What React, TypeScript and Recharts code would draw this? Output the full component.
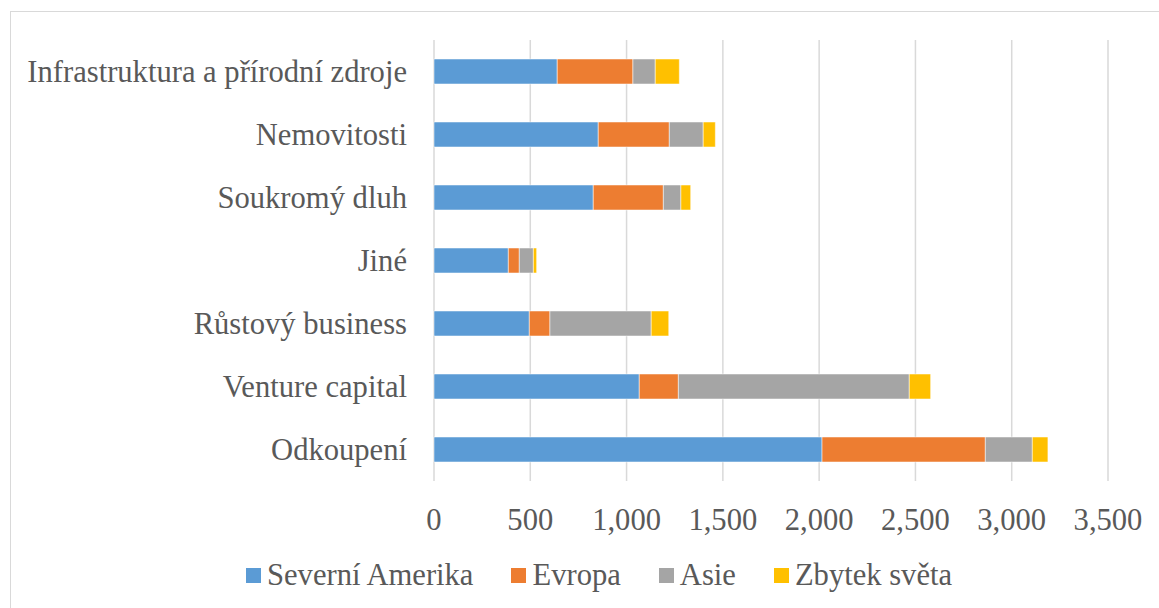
import { Bar, BarChart, CartesianGrid, XAxis, YAxis } from 'recharts';

const categories = [
  'Infrastruktura a přírodní zdroje',
  'Nemovitosti',
  'Soukromý dluh',
  'Jiné',
  'Růstový business',
  'Venture capital',
  'Odkoupení',
];
const severniAmerika = [640, 853, 827, 386, 495, 1066, 2015];
const evropa = [393, 369, 364, 57, 107, 203, 848];
const asie = [116, 176, 91, 73, 526, 1199, 244];
const zbytekSveta = [125, 63, 51, 17, 91, 111, 81];
const xTicks = [0, 500, 1000, 1500, 2000, 2500, 3000, 3500];

const series = [
  { key: 'na', name: 'Severní Amerika', values: severniAmerika, color: '#5B9BD5' },
  { key: 'eu', name: 'Evropa', values: evropa, color: '#ED7D31' },
  { key: 'as', name: 'Asie', values: asie, color: '#A5A5A5' },
  { key: 'rest', name: 'Zbytek světa', values: zbytekSveta, color: '#FFC000' },
];

const chartData = categories.map((name, i) => {
  const row: Record<string, string | number> = { name };
  series.forEach((s) => {
    row[s.key] = s.values[i];
  });
  return row;
});

const FONT = '"Liberation Serif", "Times New Roman", serif';
const TEXT = '#595959';
const FS = 30.6;

export default function App() {
  return (
    <div style={{ position: 'absolute', left: 0, top: 0, width: 1159, height: 608, overflow: 'hidden', background: '#fff' }}>
      <div
        style={{
          position: 'absolute',
          left: 10,
          top: 11,
          width: 1300,
          height: 800,
          border: '1px solid #d9d9d9',
        }}
      />
      <BarChart
        width={1159}
        height={608}
        data={chartData}
        layout="vertical"
        margin={{ top: 40, right: 51, left: 0, bottom: 0 }}
        barSize={25}
        style={{ position: 'absolute', left: 0, top: 0 }}
      >
        <CartesianGrid horizontal={false} stroke="#d9d9d9" strokeWidth={1.5} />
        <XAxis
          type="number"
          domain={[0, 3500]}
          ticks={xTicks}
          axisLine={false}
          tickLine={false}
          tickSize={0}
          tickMargin={27}
          height={127}
          interval={0}
          tickFormatter={(v: number) => v.toLocaleString('en-US')}
          tick={{ fill: TEXT, fontSize: FS, fontFamily: FONT }}
        />
        <YAxis
          type="category"
          dataKey="name"
          width={434}
          axisLine={false}
          tickLine={false}
          tickSize={0}
          tickMargin={27}
          interval={0}
          tick={{ fill: TEXT, fontSize: FS, fontFamily: FONT }}
        />
        {series.map((s) => (
          <Bar
            key={s.key}
            dataKey={s.key}
            name={s.name}
            stackId="a"
            fill={s.color}
            stroke="#ffffff"
            strokeOpacity={0.5}
            strokeWidth={1}
            isAnimationActive={false}
          />
        ))}
      </BarChart>
      <div
        style={{
          position: 'absolute',
          left: 246,
          top: 557,
          height: 36,
          display: 'flex',
          alignItems: 'center',
          gap: 38,
          fontFamily: FONT,
          fontSize: FS,
          color: TEXT,
          whiteSpace: 'nowrap',
        }}
      >
        {series.map((s) => (
          <span key={s.key} style={{ display: 'flex', alignItems: 'center', fontFamily: FONT }}>
            <span style={{ width: 15, height: 15, background: s.color, marginRight: 6, display: 'inline-block' }} />
            {s.name}
          </span>
        ))}
      </div>
    </div>
  );
}
